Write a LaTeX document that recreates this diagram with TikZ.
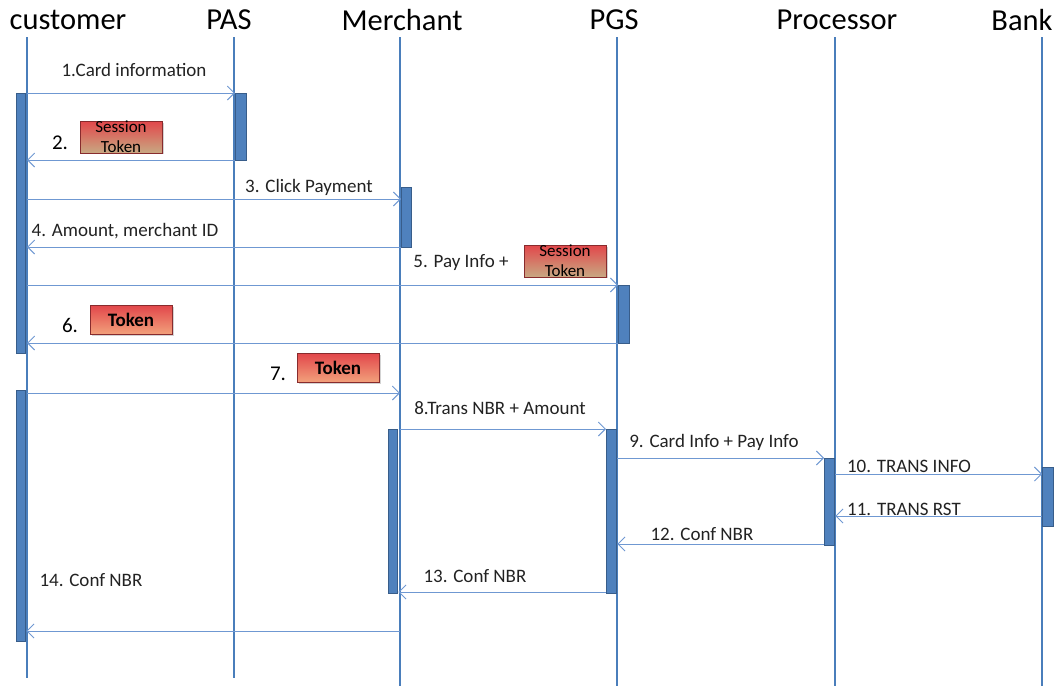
\documentclass[tikz,border=0pt]{standalone}
\usepackage{fontspec}
\setmainfont{Carlito}
\usetikzlibrary{arrows.meta,shadows}
\definecolor{life}{HTML}{4A7EBB}
\definecolor{msgc}{HTML}{6F98D2}
\definecolor{barf}{HTML}{4F81BD}
\definecolor{bard}{HTML}{385D8A}
\definecolor{tokred}{HTML}{E2474B}
\definecolor{tokor}{HTML}{F2A27C}
\definecolor{tokbrown}{HTML}{C8A882}
\definecolor{txt}{HTML}{222222}
\tikzset{
  title/.style={font=\fontsize{30.5}{33}\selectfont, text=black, inner sep=0pt},
  lifeline/.style={draw=life, line width=2.6pt},
  bar/.style={draw=bard, fill=barf, line width=1.4pt, inner sep=0pt, anchor=north west},
  msg/.style={draw=msgc, line width=0.9pt, -{Straight Barb[length=7pt,width=14pt,line width=0.9pt]}},
  lbl/.style={font=\fontsize{19}{22}\selectfont, text=txt, inner sep=0pt},
  num/.style={font=\fontsize{21}{24}\selectfont, text=black, inner sep=0pt},
  token/.style={draw=tokred!60!black, line width=0.6pt, top color=tokred, bottom color=tokor,
    minimum width=82pt, minimum height=29pt, inner sep=0pt,
    drop shadow={shadow xshift=1.5pt, shadow yshift=-1.5pt, opacity=0.35},
    font=\fontsize{19}{22}\selectfont\bfseries},
  session/.style={token, bottom color=tokbrown, font=\fontsize{17}{20}\selectfont, align=center}
}
\begin{document}
\begin{tikzpicture}[x=1pt,y=-1pt]
\useasboundingbox (0,0) rectangle (1062,686);
% titles
\node[title] (tcust) at (68,20) {customer};
\node[title] (tpas) at (229,20) {PAS};
\node[title] (tmerch) at (402,20) {Merchant};
\node[title] (tpgs) at (614,20) {PGS};
\node[title] (tproc) at (837,20) {Processor};
\node[title] (tbank) at (1022,20) {Bank};
% lifelines
\coordinate (lc) at (27,37);  \coordinate (lce) at (27,678);
\coordinate (lp) at (234,37); \coordinate (lpe) at (234,678);
\coordinate (lm) at (400,37); \coordinate (lme) at (400,686);
\coordinate (lg) at (617,37); \coordinate (lge) at (617,686);
\coordinate (lr) at (835,37); \coordinate (lre) at (835,686);
\coordinate (lb) at (1042,37); \coordinate (lbe) at (1042,686);
\foreach \a/\b in {lc/lce,lp/lpe,lm/lme,lg/lge,lr/lre,lb/lbe} \draw[lifeline] (\a) -- (\b);
% activation bars
\node[bar, minimum width=9pt, minimum height=260pt] (cb1) at (16,93) {};
\node[bar, minimum width=9pt, minimum height=251pt] (cb2) at (16,390) {};
\node[bar, minimum width=11pt, minimum height=67pt] (pb1) at (235,93) {};
\node[bar, minimum width=10pt, minimum height=60pt] (mb1) at (401,187) {};
\node[bar, minimum width=11pt, minimum height=58pt] (gb1) at (618,285) {};
\node[bar, minimum width=9pt, minimum height=164pt] (mb2) at (388,429) {};
\node[bar, minimum width=10pt, minimum height=164pt] (gb2) at (606,429) {};
\node[bar, minimum width=10pt, minimum height=87pt] (rb1) at (824,458) {};
\node[bar, minimum width=11pt, minimum height=59pt] (bb1) at (1042,467) {};
% messages
\draw[msg] (lc|-0,93) -- (pb1.west|-0,93);
\node[lbl] (m1) at (134,70) {1.Card information};
\draw[msg] (pb1.west|-0,160) -- (lc|-0,160);
\node[num] (n2) at (60,143) {2.};
\node[session] (s2) at (121,137) {Session\\Token};
\draw[msg] (lc|-0,199) -- (mb1.west|-0,199);
\node[lbl] (m3) at (309,187) {3. Click Payment};
\draw[msg] (mb1.west|-0,247) -- (lc|-0,247);
\node[lbl] (m4) at (125,231) {4. Amount, merchant ID};
\draw[msg] (lc|-0,285) -- (gb1.west|-0,285);
\node[lbl] (m5) at (461,263) {5. Pay Info +};
\node[session] (s5) at (565,261) {Session\\Token};
\draw[msg] (gb1.west|-0,343) -- (lc|-0,343);
\node[num] (n6) at (70,325) {6.};
\node[token] (t6) at (131,320) {Token};
\draw[msg] (lc|-0,393) -- (lm|-0,393);
\node[num] (n7) at (278,374) {7.};
\node[token] (t7) at (338,368) {Token};
\draw[msg] (lm|-0,429) -- (gb2.west|-0,429);
\node[lbl] (m8) at (500,408) {8.Trans NBR + Amount};
\draw[msg] (gb2.east|-0,458) -- (rb1.west|-0,458);
\node[lbl] (m9) at (714,442) {9. Card Info + Pay Info};
\draw[msg] (rb1.east|-0,474) -- (bb1.west|-0,474);
\node[lbl] (m10) at (909,466) {10. TRANS INFO};
\draw[msg] (bb1.west|-0,516) -- (rb1.east|-0,516);
\node[lbl] (m11) at (904,509) {11. TRANS RST};
\draw[msg] (rb1.west|-0,544) -- (gb2.east|-0,544);
\node[lbl] (m12) at (702,534) {12. Conf NBR};
\draw[msg] (gb2.west|-0,592) -- (mb2.east|-0,592);
\node[lbl] (m13) at (475,576) {13. Conf NBR};
\draw[msg] (lm|-0,631) -- (cb2.east|-0,631);
\node[lbl] (m14) at (91,580) {14. Conf NBR};
\end{tikzpicture}
\end{document}
